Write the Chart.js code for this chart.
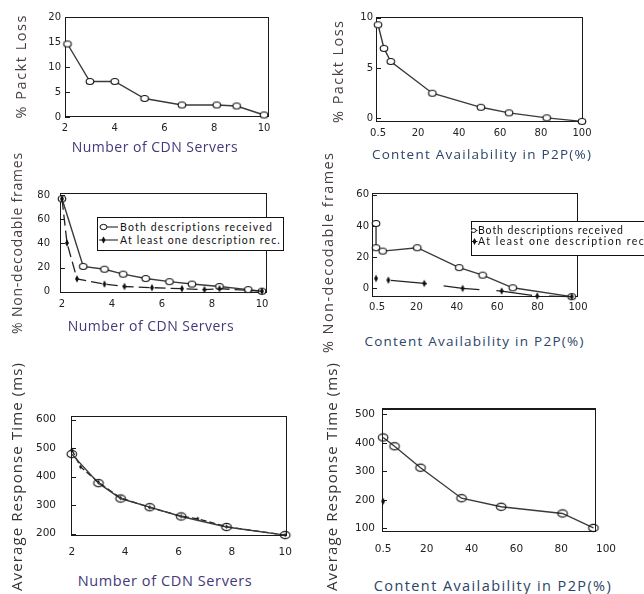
<!DOCTYPE html>
<html><head><meta charset="utf-8">
<script src="https://cdn.jsdelivr.net/npm/chart.js"></script>
<style>
html,body{margin:0;padding:0;background:#fff;width:644px;height:594px;overflow:hidden;}
body{position:relative;}
canvas{position:absolute;}
.t{position:absolute;white-space:nowrap;font-family:'Open Sans',sans-serif;line-height:1;}
.leg{position:absolute;border:1px solid #111;background:#fff;box-sizing:border-box;overflow:visible;}
.leg span{position:absolute;white-space:nowrap;font-family:Lato,sans-serif;font-size:10.5px;line-height:1;color:#111;}
</style></head><body>
<script>
// ---------- DATA ----------
const seriesBoth = 'Both descriptions received';
const seriesOne = 'At least one description rec.';

// (1) Packet loss vs number of CDN servers
const cdnServersLoss = [2.1, 3, 4, 5.2, 6.7, 8.1, 8.9, 10];
const packetLossCdn = [14.6, 7.1, 7.1, 3.7, 2.4, 2.4, 2.2, 0.4];
// (2) Packet loss vs content availability in P2P
const p2pAvailLoss = [0.5, 3.4, 6.7, 27, 50.7, 64.4, 82.8, 100];
const packetLossP2P = [9.3, 6.95, 5.65, 2.5, 1.1, 0.55, 0.05, -0.3];
// (3) Non-decodable frames vs CDN servers
const cdnServersBoth = [2, 2.85, 3.7, 4.45, 5.35, 6.3, 7.2, 8.3, 9.45, 10];
const nonDecBothCdn = [77, 21, 18.7, 14.6, 11, 8.4, 6.4, 4.4, 1.8, 0.5];
const cdnServersOne = [2, 2.2, 2.6, 3.7, 4.5, 5.6, 6.8, 7.7, 8.3, 10];
const nonDecOneCdn = [77, 40.4, 10.7, 6.4, 4.4, 3.4, 2.6, 1.8, 2.6, 0.5];
// (4) Non-decodable frames vs content availability
const p2pAvailBoth = [0, 0, 3.3, 20.4, 41.2, 52.8, 67.7, 96.9];
const nonDecBothP2P = [41.6, 26, 23.8, 26, 13.2, 8.3, 0.2, -5.5];
const p2pAvailOne = [0, 6.1, 23.9, 42.9, 62.2, 79.8, 96.9];
const nonDecOneP2P = [6.2, 5.1, 3.0, -0.2, -1.9, -5.1, -5.5];
// (5) Average response time vs CDN servers
const cdnServersRt = [2, 3, 3.83, 4.92, 6.1, 7.8, 10];
const respTimeCdn = [479, 377, 323, 292.6, 260, 223, 194.7];
const cdnServersRt2 = [2, 2.33, 3, 3.83, 4.92, 6.1, 6.72, 7.8, 10];
const respTimeCdn2 = [494, 434, 380, 325, 292, 261, 252, 224, 195];
// (6) Average response time vs content availability
const p2pAvailRt = [0.5, 5.6, 17.2, 35.5, 53.2, 80.6, 94.4];
const respTimeP2P = [419, 388, 313, 206, 176, 152.5, 102];
const p2pAvailRt2 = [0.5];
const respTimeP2P2 = [195];

// tick values / labels
const xTicksCdn = [2, 4, 6, 8, 10];
const xLabelsCdn = ['2', '4', '6', '8', '10'];
const xTicksP2P = [0.5, 20, 40, 60, 80, 100];
const xLabelsP2P = ['0.5', '20', '40', '60', '80', '100'];
const yTicksLossCdn = [0, 5, 10, 15, 20];
const yLabelsLossCdn = ['0', '5', '10', '15', '20'];
const yTicksLossP2P = [0, 5, 10];
const yLabelsLossP2P = ['0', '5', '10'];
const yTicksNonDecCdn = [0, 20, 40, 60, 80];
const yLabelsNonDecCdn = ['0', '20', '40', '60', '80'];
const yTicksNonDecP2P = [0, 20, 40, 60];
const yLabelsNonDecP2P = ['0', '20', '40', '60'];
const yTicksRtCdn = [200, 300, 400, 500, 600];
const yLabelsRtCdn = ['200', '300', '400', '500', '600'];
const yTicksRtP2P = [100, 200, 300, 400, 500];
const yLabelsRtP2P = ['100', '200', '300', '400', '500'];

// ---------- HELPERS ----------
function pts(xs, ys) { return xs.map((x, i) => ({ x: x, y: ys[i] })); }

function markerEllipse(rx, ry, fill, stroke, lw) {
  const c = document.createElement('canvas');
  const w = Math.ceil(rx * 2 + lw * 2 + 2), h = Math.ceil(ry * 2 + lw * 2 + 2);
  c.width = w; c.height = h;
  const g = c.getContext('2d');
  g.beginPath(); g.ellipse(w / 2, h / 2, rx, ry, 0, 0, Math.PI * 2);
  if (fill) { g.fillStyle = fill; g.fill(); }
  g.lineWidth = lw; g.strokeStyle = stroke; g.stroke();
  return c;
}
function markerDiamond(hw, hh, color) {
  const c = document.createElement('canvas');
  const w = Math.ceil(hw * 2 + 2), h = Math.ceil(hh * 2 + 2);
  c.width = w; c.height = h;
  const g = c.getContext('2d');
  g.beginPath();
  g.moveTo(w / 2, h / 2 - hh); g.lineTo(w / 2 + hw, h / 2); g.lineTo(w / 2, h / 2 + hh); g.lineTo(w / 2 - hw, h / 2); g.closePath();
  g.fillStyle = color; g.fill();
  return c;
}

const LINE_COL = '#3a3a3a';
const openSmall = markerEllipse(3.8, 3.0, '#fff', '#111', 1.1);
const openBig = markerEllipse(4.8, 3.6, null, '#111', 1.1);
const fillMark = markerDiamond(2.0, 3.8, '#111');
const tinyMark = markerDiamond(1.5, 2.2, '#111');

function openSet(label, xs, ys, mark) {
  return { label: label, data: pts(xs, ys), showLine: true, borderColor: LINE_COL, borderWidth: 1.4,
    pointStyle: mark, pointRadius: 4, clip: false };
}
function filledSet(label, xs, ys, mark, dash, off) {
  return { label: label, data: pts(xs, ys), showLine: true, borderColor: '#222', borderWidth: 1.3,
    borderDash: dash || [], borderDashOffset: off || 0, pointStyle: mark, pointRadius: 3, clip: false };
}

const framePlugin = {
  id: 'frame',
  beforeDatasetsDraw(chart, args, o) {
    const a = chart.chartArea, ctx = chart.ctx;
    const xs = chart.scales.x, ys = chart.scales.y;
    const right = (o.rightValue != null) ? Math.round(xs.getPixelForValue(o.rightValue)) : Math.round(a.right);
    const l = Math.round(a.left), t = Math.round(a.top), b = Math.round(a.bottom);
    ctx.save();
    ctx.strokeStyle = '#1a1a1a';
    ctx.lineWidth = 1;
    ctx.strokeRect(l + 0.5, t + 0.5, right - l - 1, b - t - 1);
    if (o.topWidth) {
      ctx.lineWidth = o.topWidth;
      ctx.beginPath(); ctx.moveTo(l, t + 1); ctx.lineTo(right, t + 1); ctx.stroke();
    }
    ctx.lineWidth = 1;
    ys.ticks.forEach(tk => {
      const p = Math.round(ys.getPixelForValue(tk.value)) + 0.5;
      ctx.beginPath(); ctx.moveTo(l, p); ctx.lineTo(l + 5, p); ctx.stroke();
    });
    ctx.restore();
  }
};

function makeChart(g, datasets, xTicks, xLabels, yTicks, yLabels, frameOpts) {
  const yW = 46, xH = 30, padT = 8, padR = 14;
  const w = g.R - g.L + yW + padR, h = g.B - g.T + padT + xH;
  const cv = document.createElement('canvas');
  cv.width = w; cv.height = h;
  cv.style.left = (g.L - yW) + 'px'; cv.style.top = (g.T - padT) + 'px';
  cv.style.width = w + 'px'; cv.style.height = h + 'px';
  document.body.appendChild(cv);
  const tickFont = { family: 'DejaVu Sans', size: g.fs || 10 };
  return new Chart(cv, {
    type: 'scatter',
    data: { datasets: datasets },
    options: {
      responsive: false, animation: false, devicePixelRatio: 1, events: [],
      layout: { padding: { top: padT, right: padR, left: 0, bottom: 0 } },
      plugins: { legend: { display: false }, tooltip: { enabled: false }, frame: frameOpts || {} },
      scales: {
        x: { type: 'linear', min: g.xMin, max: g.xMax,
          afterFit(s) { s.height = xH; },
          afterBuildTicks(s) { s.ticks = xTicks.map(v => ({ value: v })); },
          ticks: { autoSkip: false, maxRotation: 0, minRotation: 0, padding: g.xPad, font: tickFont, color: '#222',
            callback: (v, i) => xLabels[i] },
          grid: { display: false, drawTicks: false }, border: { display: false } },
        y: { type: 'linear', min: g.yMin, max: g.yMax,
          afterFit(s) { s.width = yW; },
          afterBuildTicks(s) { s.ticks = yTicks.map(v => ({ value: v })); },
          ticks: { autoSkip: false, padding: g.yPad, font: tickFont, color: '#222',
            callback: (v, i) => yLabels[i] },
          grid: { display: false, drawTicks: false }, border: { display: false } }
      }
    },
    plugins: [framePlugin]
  });
}

function addText(txt, cx, cy, target, size, color, rot) {
  const d = document.createElement('div');
  d.className = 't';
  d.textContent = txt;
  d.style.fontSize = size + 'px';
  d.style.color = color;
  document.body.appendChild(d);
  let r = d.getBoundingClientRect();
  if (target) {
    d.style.letterSpacing = ((target - r.width) / (txt.length - 1)) + 'px';
    r = d.getBoundingClientRect();
  }
  d.style.left = (cx - r.width / 2) + 'px';
  d.style.top = (cy - r.height / 2) + 'px';
  if (rot) d.style.transform = 'rotate(-90deg)';
}

function addLegend(box, rows) {
  const d = document.createElement('div');
  d.className = 'leg';
  d.style.left = box.x + 'px'; d.style.top = box.y + 'px';
  d.style.width = box.w + 'px'; d.style.height = box.h + 'px';
  let svg = '<svg width="' + box.w + '" height="' + box.h + '" style="position:absolute;left:-1px;top:-1px">';
  rows.forEach(r => {
    svg += '<line x1="' + r.lx1 + '" y1="' + r.cy + '" x2="' + r.lx2 + '" y2="' + r.cy + '" stroke="#111" stroke-width="1"/>';
    if (r.marker === 'circle') {
      svg += '<ellipse cx="' + r.mx + '" cy="' + r.cy + '" rx="' + r.rx + '" ry="' + (r.rx * 0.75) + '" fill="#fff" stroke="#111" stroke-width="1"/>';
    } else {
      svg += '<path d="M' + r.mx + ' ' + (r.cy - 3.5) + ' L' + (r.mx + 2) + ' ' + r.cy + ' L' + r.mx + ' ' + (r.cy + 3.5) + ' L' + (r.mx - 2) + ' ' + r.cy + ' Z" fill="#111"/>';
    }
  });
  svg += '</svg>';
  d.innerHTML = svg;
  document.body.appendChild(d);
  rows.forEach(r => {
    const s = document.createElement('span');
    s.textContent = r.text;
    d.appendChild(s);
    let rc = s.getBoundingClientRect();
    s.style.letterSpacing = ((r.tw - rc.width) / (r.text.length - 1)) + 'px';
    rc = s.getBoundingClientRect();
    s.style.left = (r.tx - 1) + 'px';
    s.style.top = (r.cy - 1 - rc.height / 2) + 'px';
  });
}

// ---------- CHARTS ----------
makeChart({ L: 65, T: 15, R: 269, B: 117, xMin: 2, xMax: 10.2, yMin: 0, yMax: 20, yPad: 4, xPad: 5 },
  [openSet('Packet loss', cdnServersLoss, packetLossCdn, openSmall)],
  xTicksCdn, xLabelsCdn, yTicksLossCdn, yLabelsLossCdn);

makeChart({ L: 376, T: 16, R: 583, B: 122, xMin: -0.5, xMax: 100.5, yMin: -0.36, yMax: 10.07, yPad: 3, xPad: 5 },
  [openSet('Packet loss', p2pAvailLoss, packetLossP2P, openSmall)],
  xTicksP2P, xLabelsP2P, yTicksLossP2P, yLabelsLossP2P);

makeChart({ L: 60, T: 185, R: 267, B: 293, xMin: 1.92, xMax: 10.2, yMin: -1, yMax: 81.8, yPad: 10, xPad: 5 },
  [filledSet(seriesOne, cdnServersOne, nonDecOneCdn, fillMark, [11, 5], 0),
   openSet(seriesBoth, cdnServersBoth, nonDecBothCdn, openSmall)],
  xTicksCdn, xLabelsCdn, yTicksNonDecCdn, yLabelsNonDecCdn);

makeChart({ L: 372, T: 192, R: 578, B: 297, xMin: -2, xMax: 100, yMin: -5.74, yMax: 61.2, yPad: 3, xPad: 4 },
  [filledSet(seriesOne, p2pAvailOne, nonDecOneP2P, fillMark, [36, 17], 38),
   openSet(seriesBoth, p2pAvailBoth, nonDecBothP2P, openSmall)],
  xTicksP2P, xLabelsP2P, yTicksNonDecP2P, yLabelsNonDecP2P);

makeChart({ L: 71, T: 403, R: 288, B: 536, xMin: 1.97, xMax: 10.07, yMin: 191.5, yMax: 611.7, yPad: 15, xPad: 10, fs: 10.5 },
  [openSet(seriesBoth, cdnServersRt, respTimeCdn, openBig),
   filledSet(seriesOne, cdnServersRt2, respTimeCdn2, tinyMark, [6, 3], 0)],
  xTicksCdn, xLabelsCdn, yTicksRtCdn, yLabelsRtCdn);

makeChart({ L: 382, T: 403, R: 613, B: 532, xMin: 0, xMax: 100, yMin: 87.6, yMax: 521.2, yPad: 7, xPad: 11, fs: 10.5 },
  [filledSet(seriesOne, p2pAvailRt2, respTimeP2P2, fillMark),
   openSet(seriesBoth, p2pAvailRt, respTimeP2P, openBig)],
  xTicksP2P, xLabelsP2P, yTicksRtP2P, yLabelsRtP2P, { rightValue: 95.7, topWidth: 2 });

// ---------- AXIS TITLES ----------
const COL_CDN = '#45387a', COL_P2P = '#2b4468', COL_Y = '#4a4040';
addText('Number of CDN Servers', 155, 146.7, 166, 14, COL_CDN, false);
addText('% Packt Loss', 21, 66.5, 103, 14.5, COL_Y, true);
addText('Content Availability in P2P(%)', 482, 155, 219, 13.5, COL_P2P, false);
addText('% Packt Loss', 339, 71, 102, 14.5, COL_Y, true);
addText('Number of CDN Servers', 151, 325.7, 166, 14, COL_CDN, false);
addText('% Non-decodable frames', 17, 243, 181, 14, COL_Y, true);
addText('Content Availability in P2P(%)', 474.5, 341.7, 219, 13.5, COL_P2P, false);
addText('% Non-decodable frames', 329, 252, 200, 14.5, COL_Y, true);
addText('Number of CDN Servers', 165, 581.7, 174, 14.5, COL_CDN, false);
addText('Average Response Time (ms)', 17, 476, 228, 15, '#333', true);
addText('Content Availability in P2P(%)', 493, 586.7, 237, 14.5, COL_P2P, false);
addText('Average Response Time (ms)', 332, 476, 228, 15, '#333', true);

// ---------- LEGENDS ----------
addLegend({ x: 97, y: 217, w: 187, h: 34 }, [
  { text: seriesBoth, cy: 10, marker: 'circle', mx: 6.5, rx: 3.5, lx1: 3, lx2: 21, tx: 23, tw: 152 },
  { text: seriesOne, cy: 23, marker: 'diamond', mx: 6.5, lx1: 2, lx2: 21, tx: 23, tw: 160 }
]);
addLegend({ x: 471, y: 221, w: 190, h: 35 }, [
  { text: seriesBoth, cy: 9.5, marker: 'circle', mx: 2.5, rx: 2.6, lx1: 4, lx2: 6.5, tx: 7, tw: 145 },
  { text: seriesOne, cy: 20.5, marker: 'diamond', mx: 3.5, lx1: 0, lx2: 6.5, tx: 7, tw: 170 }
]);
</script>
</body></html>
